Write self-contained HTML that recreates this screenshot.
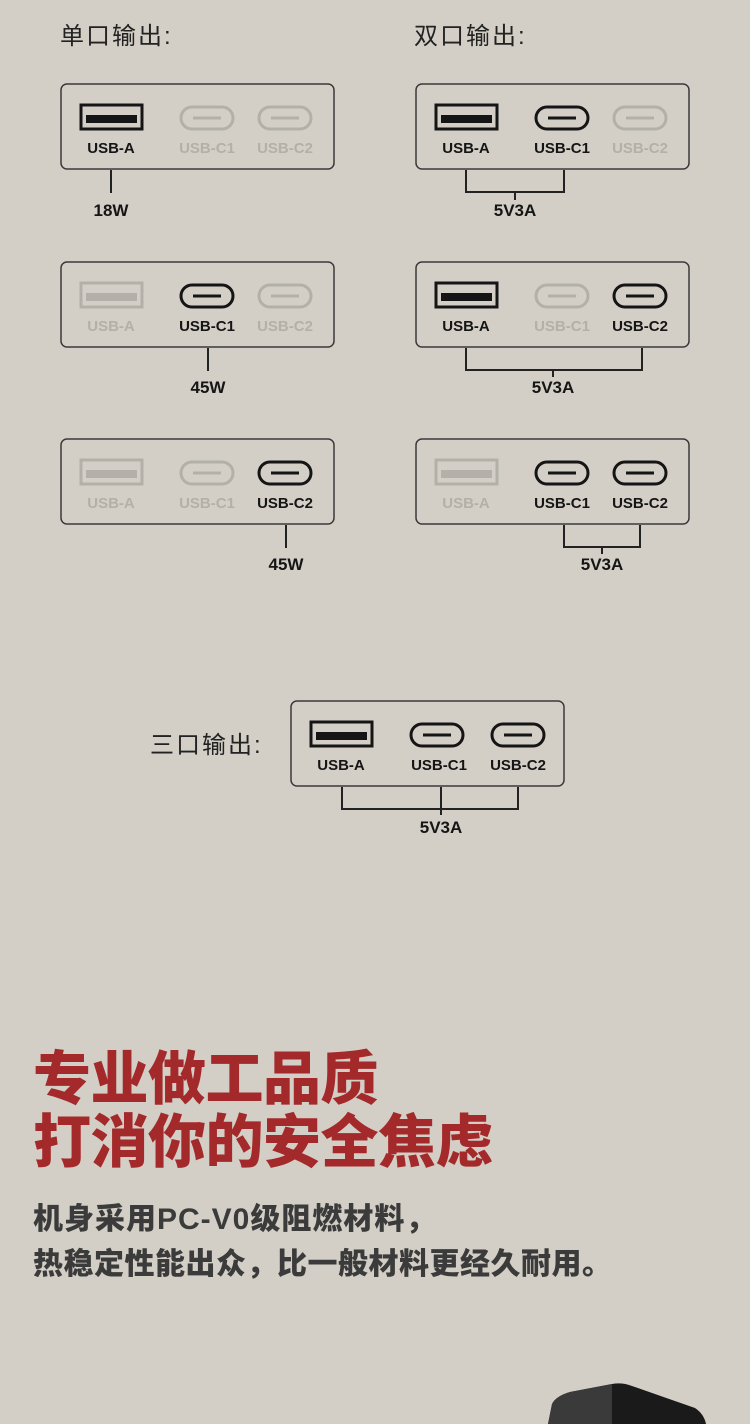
<!DOCTYPE html>
<html><head><meta charset="utf-8"><style>
html,body{margin:0;padding:0;background:#d3cfc6;}
body{width:750px;height:1424px;position:relative;overflow:hidden;font-family:"Liberation Sans","Noto Sans CJK SC",sans-serif;}
svg{position:absolute;left:0;top:0;}
.t{position:absolute;left:33px;white-space:nowrap;font-family:"Liberation Sans","Noto Sans CJK SC",sans-serif;font-weight:900;}
</style></head><body>
<svg width="750" height="1424" viewBox="0 0 750 1424">
<defs>
<g id="bx"><rect x="0" y="0" width="273" height="85" rx="6" fill="none" stroke="#3a3a3a" stroke-width="1.5"/></g>
<g id="Ad"><rect x="20" y="21" width="61" height="24" fill="none" stroke="#151515" stroke-width="3"/><rect x="25" y="31" width="51" height="8" fill="#151515"/></g>
<g id="Al"><rect x="20" y="21" width="61" height="24" fill="none" stroke="#b3b0a9" stroke-width="3"/><rect x="25" y="31" width="51" height="8" fill="#b3b0a9"/></g>
<g id="Cd"><rect x="-26" y="23" width="52" height="22" rx="11" fill="none" stroke="#151515" stroke-width="3"/><line x1="-14" y1="34" x2="14" y2="34" stroke="#151515" stroke-width="3"/></g>
<g id="Cl"><rect x="-26" y="23" width="52" height="22" rx="11" fill="none" stroke="#b3b0a9" stroke-width="3"/><line x1="-14" y1="34" x2="14" y2="34" stroke="#b3b0a9" stroke-width="3"/></g>
</defs>
<g font-family="Liberation Sans, Noto Sans CJK SC, sans-serif" font-size="24" fill="#222" letter-spacing="2">
<text x="60" y="44">单口输出:</text>
<text x="414" y="44">双口输出:</text>
<text x="150" y="753">三口输出:</text>
</g>
<g font-family="Liberation Sans, sans-serif" font-weight="bold" font-size="15" text-anchor="middle">
<g transform="translate(61,84)"><use href="#bx"/><use href="#Ad"/><use href="#Cl" x="146"/><use href="#Cl" x="224"/>
<text x="50" y="69" fill="#151515">USB-A</text><text x="146" y="69" fill="#b3b0a9">USB-C1</text><text x="224" y="69" fill="#b3b0a9">USB-C2</text></g>
<line x1="111" y1="170" x2="111" y2="193" stroke="#222" stroke-width="2"/>
<text x="111" y="216" font-size="17" fill="#151515">18W</text>
<g transform="translate(416,84)"><use href="#bx"/><use href="#Ad"/><use href="#Cd" x="146"/><use href="#Cl" x="224"/>
<text x="50" y="69" fill="#151515">USB-A</text><text x="146" y="69" fill="#151515">USB-C1</text><text x="224" y="69" fill="#b3b0a9">USB-C2</text></g>
<polyline points="466,170 466,192 564,192 564,170" fill="none" stroke="#222" stroke-width="2"/>
<line x1="515" y1="192" x2="515" y2="200" stroke="#222" stroke-width="2"/>
<text x="515" y="216" font-size="17" fill="#151515">5V3A</text>
<g transform="translate(61,262)"><use href="#bx"/><use href="#Al"/><use href="#Cd" x="146"/><use href="#Cl" x="224"/>
<text x="50" y="69" fill="#b3b0a9">USB-A</text><text x="146" y="69" fill="#151515">USB-C1</text><text x="224" y="69" fill="#b3b0a9">USB-C2</text></g>
<line x1="208" y1="348" x2="208" y2="371" stroke="#222" stroke-width="2"/>
<text x="208" y="393" font-size="17" fill="#151515">45W</text>
<g transform="translate(416,262)"><use href="#bx"/><use href="#Ad"/><use href="#Cl" x="146"/><use href="#Cd" x="224"/>
<text x="50" y="69" fill="#151515">USB-A</text><text x="146" y="69" fill="#b3b0a9">USB-C1</text><text x="224" y="69" fill="#151515">USB-C2</text></g>
<polyline points="466,348 466,370 642,370 642,348" fill="none" stroke="#222" stroke-width="2"/>
<line x1="553" y1="370" x2="553" y2="377" stroke="#222" stroke-width="2"/>
<text x="553" y="393" font-size="17" fill="#151515">5V3A</text>
<g transform="translate(61,439)"><use href="#bx"/><use href="#Al"/><use href="#Cl" x="146"/><use href="#Cd" x="224"/>
<text x="50" y="69" fill="#b3b0a9">USB-A</text><text x="146" y="69" fill="#b3b0a9">USB-C1</text><text x="224" y="69" fill="#151515">USB-C2</text></g>
<line x1="286" y1="525" x2="286" y2="548" stroke="#222" stroke-width="2"/>
<text x="286" y="570" font-size="17" fill="#151515">45W</text>
<g transform="translate(416,439)"><use href="#bx"/><use href="#Al"/><use href="#Cd" x="146"/><use href="#Cd" x="224"/>
<text x="50" y="69" fill="#b3b0a9">USB-A</text><text x="146" y="69" fill="#151515">USB-C1</text><text x="224" y="69" fill="#151515">USB-C2</text></g>
<polyline points="564,525 564,547 640,547 640,525" fill="none" stroke="#222" stroke-width="2"/>
<line x1="602" y1="547" x2="602" y2="554" stroke="#222" stroke-width="2"/>
<text x="602" y="570" font-size="17" fill="#151515">5V3A</text>
<g transform="translate(291,701)"><use href="#bx"/><use href="#Ad"/><use href="#Cd" x="146"/><use href="#Cd" x="227"/>
<text x="50" y="69" fill="#151515">USB-A</text><text x="148" y="69" fill="#151515">USB-C1</text><text x="227" y="69" fill="#151515">USB-C2</text></g>
<polyline points="342,787 342,809 518,809 518,787" fill="none" stroke="#222" stroke-width="2"/>
<line x1="441" y1="787" x2="441" y2="815" stroke="#222" stroke-width="2"/>
<text x="441" y="833" font-size="17" fill="#151515">5V3A</text>
</g>
<path d="M548,1424 L552,1404 Q556,1396 570,1392 L612,1384 Q622,1382 632,1386 L695,1408 Q704,1414 706,1424 Z" fill="#1a1a1a"/>
<path d="M548,1424 L552,1404 Q556,1396 570,1392 L612,1384 L612,1424 Z" fill="#3a3a3a"/>
</svg>
<div class="t" style="top:1045px;font-size:58px;line-height:70px;color:#a3292a;letter-spacing:-0.5px;">专业做工品质</div>
<div class="t" style="top:1108px;font-size:58px;line-height:70px;color:#a3292a;letter-spacing:-0.5px;">打消你的安全焦虑</div>
<div class="t" style="top:1200px;font-size:30px;line-height:40px;color:#3b3b3b;letter-spacing:1px;">机身采用PC-V0级阻燃材料，</div>
<div class="t" style="top:1245px;font-size:30px;line-height:40px;color:#3b3b3b;letter-spacing:0.5px;">热稳定性能出众，比一般材料更经久耐用。</div>
</body></html>
